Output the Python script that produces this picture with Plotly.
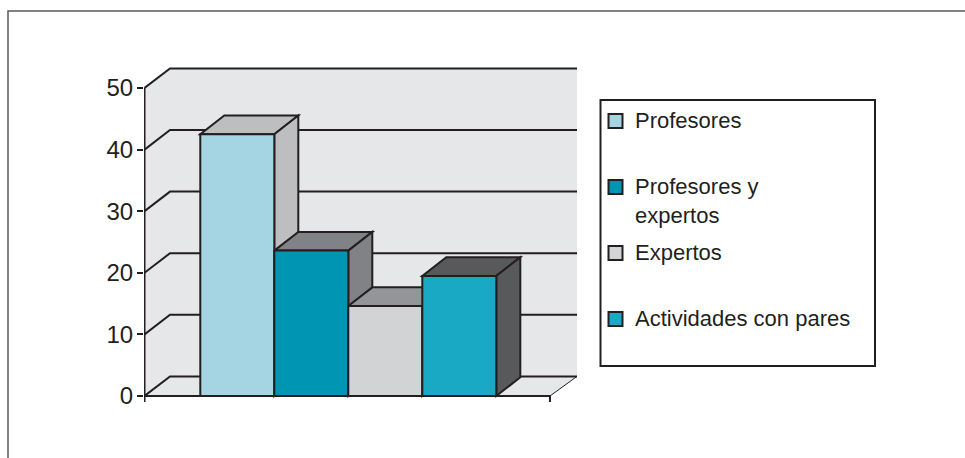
import plotly.graph_objects as go

categories = ["Profesores", "Profesores y<br>expertos", "Expertos", "Actividades con pares"]
values = [42.5, 23.6, 14.6, 19.5]
tick_values = [0, 10, 20, 30, 40, 50]

front_colors = ["#a5d5e3", "#0095b3", "#d1d3d4", "#19a9c5"]
shade_colors = ["#bcbec0", "#808285", "#939598", "#58595b"]
INK = "#231f20"
WALL = "#e6e7e9"

W, H = 965, 458
ML, MR, MT, MB = 144, 388, 67, 56
PX_X = 74.0
PX_Y = 6.16
plot_w = W - ML - MR
plot_h = H - MT - MB
X0 = 1 - (237.3 - ML) / PX_X
X_RANGE = [X0, X0 + plot_w / PX_X]
STUB = 6 / PX_Y
Y_RANGE = [-STUB, plot_h / PX_Y - STUB]

AX_L = X0 + 0.5 / PX_X
AX_R = X0 + (550 - ML) / PX_X
WALL_R = X0 + (577 - ML) / PX_X
WALL_DX, WALL_DY = 25.5 / PX_X, 19.6 / PX_Y
BAR_DX, BAR_DY = 24 / PX_X, 18.7 / PX_Y


def px(x):
    return (x - ML) / plot_w


def py(y):
    return (H - MB - y) / plot_h


def poly(points):
    return "M " + " L ".join(f"{a} {b}" for a, b in points) + " Z"


def openpath(points):
    return "M " + " L ".join(f"{a} {b}" for a, b in points)


shapes = []
top = 50 + WALL_DY
# side wall, back wall, floor
shapes.append(dict(type="path", xref="x", yref="y", layer="below", line_width=0, fillcolor=WALL,
                   path=poly([(AX_L, 0), (AX_L, 50), (AX_L + WALL_DX, top), (WALL_R, top),
                              (WALL_R, WALL_DY), (AX_R, 0)])))
shapes.append(dict(type="path", xref="x", yref="y", layer="below", line=dict(color=INK, width=1),
                   path=openpath([(AX_R, 0), (WALL_R, WALL_DY)])))
# gridlines wrap from the side wall onto the back wall
for t in tick_values:
    shapes.append(dict(type="path", xref="x", yref="y", layer="below", line=dict(color=INK, width=2),
                       path=openpath([(AX_L, t), (AX_L + WALL_DX, t + WALL_DY), (WALL_R, t + WALL_DY)])))

# top and side faces of the bars
for i, v in enumerate(values):
    c = i + 1
    a, b = c - 0.5, c + 0.5
    for pts in ([(a, v), (b, v), (b + BAR_DX, v + BAR_DY), (a + BAR_DX, v + BAR_DY)],
                [(b, 0), (b, v), (b + BAR_DX, v + BAR_DY), (b + BAR_DX, BAR_DY)]):
        shapes.append(dict(type="path", xref="x", yref="y", layer="below",
                           line=dict(color=INK, width=2), fillcolor=shade_colors[i], path=poly(pts)))

fig = go.Figure()
for i, (name, v) in enumerate(zip(categories, values)):
    fig.add_trace(go.Bar(x=[i + 1], y=[v], width=1, name=name.replace("<br>", " "),
                         marker=dict(color=front_colors[i], line=dict(color=INK, width=2)),
                         showlegend=False))

# axis lines with their end stubs
fig.add_trace(go.Scatter(x=[AX_L, AX_L], y=[50, -STUB], mode="lines", showlegend=False,
                         line=dict(color=INK, width=2), hoverinfo="skip"))
fig.add_trace(go.Scatter(x=[AX_L, AX_R, AX_R], y=[0, 0, -STUB], mode="lines", showlegend=False,
                         line=dict(color=INK, width=2), hoverinfo="skip"))

# outer frame
shapes.append(dict(type="path", xref="paper", yref="paper", line=dict(color="#58595b", width=1.5),
                   path=openpath([(px(8), py(458)), (px(8), py(11)), (px(965), py(11))])))
# legend box
shapes.append(dict(type="rect", xref="paper", yref="paper", line=dict(color=INK, width=2),
                   fillcolor="white", x0=px(600.5), x1=px(875), y0=py(100), y1=py(366)))

annotations = []
row_tops = [113.5, 179.5, 245.5, 311.5]
for name, color, y in zip(categories, front_colors, row_tops):
    shapes.append(dict(type="rect", xref="paper", yref="paper", line=dict(color=INK, width=2),
                       fillcolor=color, x0=px(608.5), x1=px(622.5), y0=py(y + 0.5), y1=py(y + 14.5)))
    annotations.append(dict(xref="paper", yref="paper", x=px(633), y=py(y - 7.5), xanchor="left", yanchor="top",
                            align="left", text=name, showarrow=False,
                            font=dict(family="Liberation Sans", size=22, color=INK)))

fig.update_layout(
    width=W, height=H, margin=dict(l=ML, r=MR, t=MT, b=MB, autoexpand=False),
    paper_bgcolor="white", plot_bgcolor="white", barmode="overlay",
    shapes=shapes, annotations=annotations, showlegend=False,
    font=dict(family="Liberation Sans", color=INK),
    xaxis=dict(range=X_RANGE, visible=False, fixedrange=True),
    yaxis=dict(range=Y_RANGE, tickvals=tick_values, ticks="outside", ticklen=6, tickwidth=2, tickcolor=INK,
               showgrid=False, zeroline=False, showline=False, ticklabelstandoff=-1,
               tickfont=dict(family="Liberation Sans", size=24, color=INK)),
)
fig.write_html("out.html", config=dict(displayModeBar=False),
               post_script="document.body.style.margin='0';document.documentElement.style.overflow='hidden';")
